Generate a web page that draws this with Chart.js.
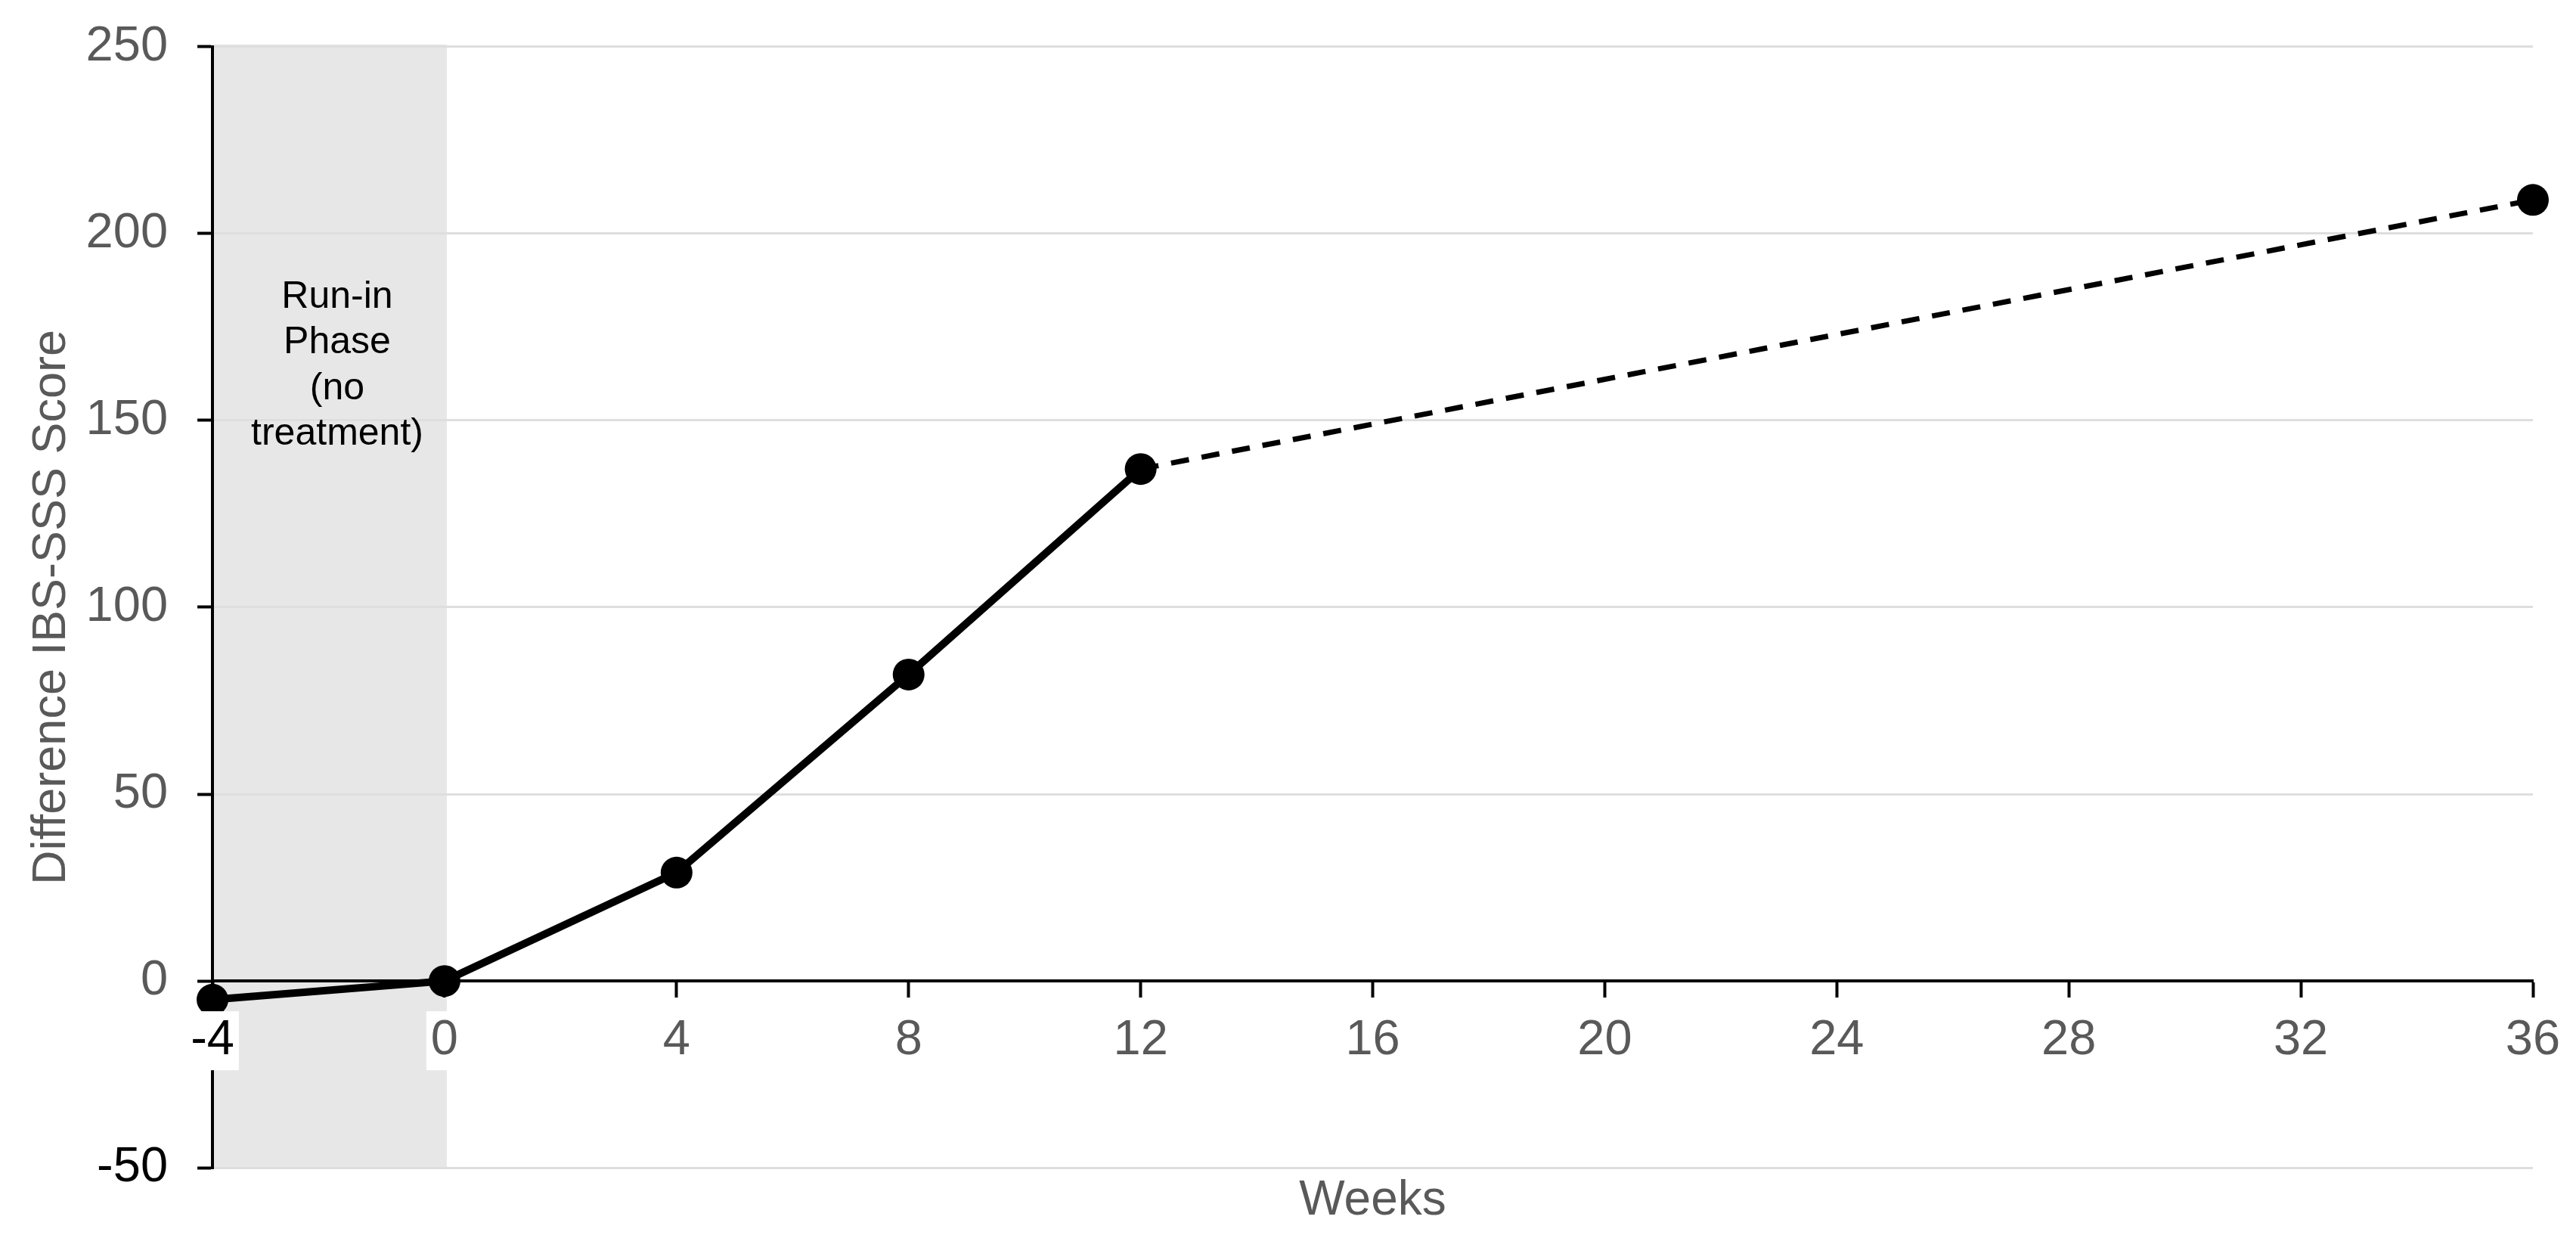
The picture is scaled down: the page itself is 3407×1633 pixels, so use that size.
<!DOCTYPE html>
<html>
<head>
<meta charset="utf-8">
<script src="https://cdn.jsdelivr.net/npm/chart.js@4.4.1/dist/chart.umd.min.js"></script>
<style>
  html, body { margin: 0; padding: 0; background: #fff; }
  #wrap { width: 3407px; height: 1633px; }
</style>
</head>
<body>
<div id="wrap"><canvas id="myChart"></canvas></div>
<script>
// measured points (weeks / IBS-SSS difference)
var weeks = [-4, 0, 4, 8, 12];
var scores = [-5, 0, 29, 82, 137];
// follow-up, drawn dashed
var followWeeks = [12, 36];
var followScores = [137, 209];

var xTicks = [-4, 0, 4, 8, 12, 16, 20, 24, 28, 32, 36];
var yTicks = [-50, 0, 50, 100, 150, 200, 250];
var runInLines = ["Run-in", "Phase", "(no", "treatment)"];

var grey = "#595959";
var sans = "'Liberation Sans', Arial, sans-serif";
var narrow = "'Liberation Sans Narrow', 'Liberation Sans', Arial, sans-serif";

function toPoints(xs, ys) {
    return xs.map(function (x, i) { return { x: x, y: ys[i] }; });
}

// grey band for the run-in weeks plus its caption
var runInPhase = {
    id: "runInPhase",
    beforeDraw: function (chart) {
        var c = chart.ctx, area = chart.chartArea, xs = chart.scales.x;
        var x0 = xs.getPixelForValue(weeks[0]);
        var x1 = xs.getPixelForValue(0);
        c.save();
        c.fillStyle = "#e7e7e7";
        c.fillRect(x0, area.top - 3, x1 - x0 + 3, area.bottom - area.top + 3);
        c.restore();
    },
    beforeDatasetsDraw: function (chart) {
        var c = chart.ctx, xs = chart.scales.x, ys = chart.scales.y;
        c.save();
        c.fillStyle = "#000";
        c.font = "50px " + sans;
        c.textAlign = "center";
        c.textBaseline = "middle";
        var cx = xs.getPixelForValue(-1.85);
        var y0 = ys.getPixelForValue(183);
        runInLines.forEach(function (t, i) {
            c.fillText(t, cx, y0 + i * 60.5);
        });
        c.restore();
    }
};

Chart.defaults.font.family = sans;

var ctx = document.getElementById("myChart").getContext("2d");

myChart = new Chart(ctx, {
    type: "line",
    data: {
        datasets: [
            {
                data: toPoints(weeks, scores),
                xAxisID: "x",
                yAxisID: "y",
                borderColor: "#000",
                backgroundColor: "#000",
                borderWidth: 10,
                pointRadius: 21,
                pointBorderWidth: 0,
                pointBackgroundColor: "#000",
                tension: 0,
                clip: false
            },
            {
                data: toPoints(followWeeks, followScores),
                xAxisID: "x",
                yAxisID: "y",
                borderColor: "#000",
                backgroundColor: "#000",
                borderWidth: 7,
                borderDash: [24, 17],
                pointRadius: [0, 21],
                pointBorderWidth: 0,
                pointBackgroundColor: "#000",
                tension: 0,
                clip: false
            }
        ]
    },
    options: {
        responsive: true,
        maintainAspectRatio: false,
        animation: false,
        devicePixelRatio: 1,
        layout: { padding: { left: 31, right: 57, top: 61, bottom: 0 } },
        plugins: {
            legend: { display: false },
            tooltip: { enabled: false }
        },
        scales: {
            x: {
                type: "linear",
                position: { y: 0 },
                min: -4,
                max: 36,
                afterBuildTicks: function (s) {
                    s.ticks = xTicks.map(function (v) { return { value: v }; });
                },
                grid: { drawOnChartArea: false, drawTicks: true, tickLength: 20, tickWidth: 4, tickColor: "#000" },
                border: { color: "#000", width: 4 },
                ticks: {
                    z: 1,
                    padding: 20,
                    color: function (c) { return c.tick && c.tick.value === -4 ? "#000" : grey; },
                    font: function (c) {
                        return { size: 65, family: c.tick && c.tick.value === -4 ? narrow : sans };
                    },
                    showLabelBackdrop: true,
                    backdropColor: "#fff",
                    backdropPadding: { top: 0, bottom: 0, left: 6, right: 6 }
                }
            },
            y: {
                min: -50,
                max: 250,
                afterBuildTicks: function (s) {
                    s.ticks = yTicks.map(function (v) { return { value: v }; });
                },
                grid: { color: "#dedede", lineWidth: 3, tickColor: "#000", tickLength: 20, tickWidth: 4 },
                border: { color: "#000", width: 4 },
                ticks: {
                    padding: 39,
                    color: function (c) { return c.tick && c.tick.value === -50 ? "#000" : grey; },
                    font: function (c) {
                        return { size: 65, lineHeight: 0.7, family: c.tick && c.tick.value === -50 ? narrow : sans };
                    }
                },
                title: {
                    display: true,
                    text: "Difference IBS-SSS Score",
                    color: grey,
                    font: { size: 63 },
                    padding: { top: 0, bottom: -32 }
                }
            },
            x2: {
                type: "linear",
                position: "bottom",
                min: -4,
                max: 36,
                ticks: { display: false },
                grid: { display: false, drawTicks: false },
                border: { display: false },
                title: {
                    display: true,
                    text: "Weeks",
                    color: grey,
                    font: { size: 64 },
                    padding: { top: 6, bottom: 6 }
                }
            }
        }
    },
    plugins: [runInPhase]
});
</script>
</body>
</html>
